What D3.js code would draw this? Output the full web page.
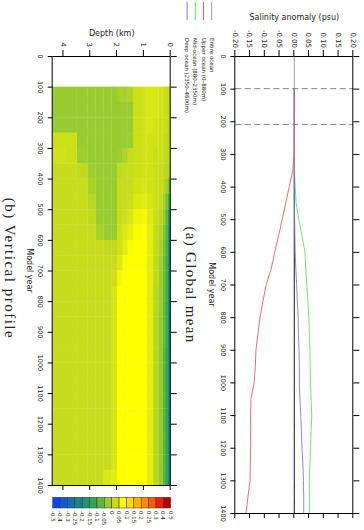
<!DOCTYPE html>
<html>
<head>
<meta charset="utf-8">
<script src="https://cdn.jsdelivr.net/npm/d3@7"></script>
<style>
  body { margin: 0; background: #fff; }
  text { font-family: "DejaVu Sans", sans-serif; fill: #222; }
  .axis path, .axis line { stroke: #000; stroke-width: 1; }
</style>
</head>
<body>
<div id="chart"></div>
<script>
// ----------------------------DATA-------------------------------//
const years = [100, 150, 200, 250, 300, 350, 400, 450, 500, 550, 600, 650, 700, 750,
  800, 850, 900, 950, 1000, 1050, 1100, 1150, 1200, 1250, 1300, 1350, 1400];
const entireOcean = [0, 0, 0, 0, 0, 0, 0, 0, 0, 0, 0, 0, 0, 0,
  0, 0, 0, 0, 0, 0, 0, 0, 0, 0, 0, 0, 0];
const upperOcean = [0, 0, 0, 0, -0.001, -0.005, -0.017, -0.029, -0.041, -0.053, -0.066, -0.078, -0.095, -0.106,
  -0.116, -0.123, -0.130, -0.132, -0.136, -0.147, -0.148, -0.148, -0.148, -0.149, -0.150, -0.157, -0.164];
const midOcean = [0, 0, 0, 0, 0.001, 0.001, 0.003, 0.006, 0.015, 0.026, 0.036, 0.039, 0.042, 0.046,
  0.049, 0.051, 0.053, 0.054, 0.055, 0.057, 0.059, 0.057, 0.055, 0.053, 0.051, 0.051, 0.051];
const deepOcean = [0, 0, 0, 0, 0, 0, 0, 0, 0.001, 0.002, 0.003, 0.005, 0.008, 0.010,
  0.013, 0.014, 0.016, 0.017, 0.017, 0.019, 0.022, 0.024, 0.026, 0.029, 0.031, 0.032, 0.032];

const seriesNames = ['Entire ocean', 'Upper ocean (0\u2013880m)', 'Mid-ocean (880\u20132350m)', 'Deep ocean (2350\u20134600m)'];
const seriesColors = ['#9a9a9a', '#e0606a', '#66dd66', '#7a7ae8'];
const markerYears = [100, 210];

const salinityTicks = [-0.20, -0.15, -0.10, -0.05, 0.00, 0.05, 0.10, 0.15, 0.20];
const yearTicks = [0, 100, 200, 300, 400, 500, 600, 700, 800, 900, 1000, 1100, 1200, 1300, 1400];
const depthTicks = [0, 1, 2, 3, 4];

// vertical profile: cell edges and values (psu), one row per depth cell
const profileYearEdges = [100, 150, 200, 250, 300, 350, 400, 450, 500, 550, 600, 650, 700, 750,
  800, 850, 900, 950, 1000, 1050, 1100, 1150, 1200, 1250, 1300, 1350, 1400];
const depthEdges = [0, 0.04, 0.1, 0.2, 0.3, 0.45, 0.65, 0.9, 1.1, 1.4, 1.6, 1.8, 2.0,
  2.2, 2.5, 2.8, 3.1, 3.5, 3.9, 4.4];
const profileGrid = [
  [0.02, 0.02, 0.02, 0.02, 0.02, 0.01, -0.1, -0.2, -0.28, -0.33, -0.35, -0.35, -0.35, -0.35, -0.35, -0.35, -0.35, -0.35, -0.35, -0.35, -0.35, -0.35, -0.35, -0.35, -0.35, -0.35],
  [0.02, 0.02, 0.02, 0.02, 0.015, 0.0, -0.05, -0.1, -0.14, -0.16, -0.17, -0.17, -0.18, -0.18, -0.18, -0.19, -0.19, -0.19, -0.2, -0.2, -0.2, -0.2, -0.2, -0.2, -0.2, -0.2],
  [0.025, 0.025, 0.025, 0.02, 0.015, 0.005, -0.02, -0.05, -0.07, -0.08, -0.09, -0.1, -0.1, -0.1, -0.11, -0.11, -0.11, -0.12, -0.12, -0.12, -0.12, -0.12, -0.12, -0.12, -0.12, -0.12],
  [0.03, 0.03, 0.03, 0.025, 0.025, 0.02, 0.01, -0.01, -0.025, -0.04, -0.05, -0.06, -0.06, -0.065, -0.07, -0.07, -0.07, -0.075, -0.075, -0.075, -0.075, -0.075, -0.075, -0.075, -0.075, -0.075],
  [0.035, 0.035, 0.03, 0.03, 0.03, 0.025, 0.025, 0.02, 0.01, 0.0, -0.01, -0.02, -0.025, -0.025, -0.025, -0.03, -0.03, -0.03, -0.03, -0.03, -0.03, -0.03, -0.03, -0.03, -0.03, -0.03],
  [0.04, 0.04, 0.035, 0.035, 0.03, 0.03, 0.03, 0.03, 0.025, 0.02, 0.02, 0.015, 0.015, 0.01, 0.01, 0.01, 0.01, 0.01, 0.01, 0.01, 0.01, 0.01, 0.01, 0.01, 0.01, 0.01],
  [0.04, 0.04, 0.04, 0.035, 0.035, 0.035, 0.035, 0.04, 0.045, 0.05, 0.05, 0.05, 0.05, 0.05, 0.05, 0.05, 0.05, 0.05, 0.05, 0.05, 0.05, 0.05, 0.05, 0.05, 0.05, 0.05],
  [0.035, 0.035, 0.035, 0.035, 0.035, 0.035, 0.04, 0.05, 0.065, 0.075, 0.075, 0.075, 0.075, 0.075, 0.075, 0.075, 0.075, 0.075, 0.075, 0.075, 0.075, 0.075, 0.075, 0.075, 0.075, 0.075],
  [0.03, 0.03, 0.03, 0.03, 0.03, 0.03, 0.035, 0.045, 0.06, 0.07, 0.075, 0.075, 0.075, 0.075, 0.075, 0.075, 0.075, 0.075, 0.075, 0.075, 0.075, 0.075, 0.075, 0.075, 0.075, 0.075],
  [0.0, -0.025, -0.025, -0.02, 0.025, 0.025, 0.025, 0.03, 0.04, 0.055, 0.07, 0.075, 0.075, 0.075, 0.075, 0.075, 0.075, 0.075, 0.075, 0.075, 0.075, 0.075, 0.075, 0.075, 0.075, 0.075],
  [-0.01, -0.025, -0.025, -0.025, 0.0, 0.025, 0.025, 0.025, 0.03, 0.04, 0.05, 0.07, 0.075, 0.075, 0.075, 0.075, 0.075, 0.075, 0.075, 0.075, 0.075, 0.075, 0.075, 0.075, 0.075, 0.075],
  [-0.01, -0.025, -0.025, -0.025, -0.02, 0.02, 0.025, 0.025, 0.025, 0.03, 0.035, 0.045, 0.065, 0.075, 0.075, 0.075, 0.075, 0.075, 0.075, 0.075, 0.075, 0.075, 0.075, 0.075, 0.075, 0.075],
  [-0.025, -0.025, -0.025, -0.025, -0.025, -0.025, -0.025, -0.025, -0.025, -0.025, 0.02, 0.025, 0.03, 0.04, 0.04, 0.04, 0.04, 0.04, 0.04, 0.04, 0.04, 0.04, 0.04, 0.04, 0.04, 0.05],
  [-0.025, -0.025, -0.025, -0.025, -0.025, -0.025, -0.025, -0.025, -0.025, -0.025, 0.02, 0.025, 0.025, 0.025, 0.025, 0.025, 0.025, 0.025, 0.025, 0.025, 0.025, 0.025, 0.025, 0.025, 0.025, 0.045],
  [-0.025, -0.025, -0.025, -0.025, -0.025, -0.025, -0.025, -0.025, -0.025, -0.01, 0.025, 0.025, 0.025, 0.025, 0.025, 0.025, 0.025, 0.025, 0.025, 0.025, 0.025, 0.025, 0.025, 0.025, 0.025, 0.025],
  [-0.025, -0.025, -0.025, -0.025, -0.025, -0.02, -0.01, 0.01, 0.02, 0.025, 0.025, 0.025, 0.025, 0.025, 0.025, 0.025, 0.025, 0.025, 0.025, 0.025, 0.025, 0.025, 0.025, 0.025, 0.025, 0.025],
  [-0.025, -0.025, -0.025, -0.025, -0.02, 0.02, 0.025, 0.025, 0.025, 0.025, 0.025, 0.025, 0.025, 0.025, 0.025, 0.025, 0.025, 0.025, 0.025, 0.025, 0.025, 0.025, 0.025, 0.025, 0.025, 0.025],
  [-0.025, -0.025, -0.025, 0.03, 0.03, 0.025, 0.025, 0.025, 0.025, 0.025, 0.025, 0.025, 0.025, 0.025, 0.025, 0.025, 0.025, 0.025, 0.025, 0.025, 0.025, 0.025, 0.025, 0.025, 0.025, 0.025],
  [-0.025, -0.025, -0.025, 0.03, 0.035, 0.025, 0.025, 0.025, 0.025, 0.025, 0.025, 0.025, 0.025, 0.025, 0.025, 0.025, 0.025, 0.025, 0.025, 0.025, 0.025, 0.025, 0.025, 0.025, 0.025, 0.025]
];

const colorEdges = [-0.5, -0.4, -0.3, -0.25, -0.2, -0.15, -0.1, -0.05, 0, 0.05, 0.1, 0.15, 0.2, 0.25, 0.3, 0.4, 0.5];
const colorLabels = ['-0.5', '-0.4', '-0.3', '-0.25', '-0.2', '-0.15', '-0.1', '-0.05', '0', '0.05', '0.1', '0.15', '0.2', '0.25', '0.3', '0.4', '0.5'];
const colorSteps = ['#0a46ff', '#1458d8', '#1a6cb2', '#198490', '#1a9672', '#2ea64e', '#5eb83c', '#98cc30',
  '#c6dc1c', '#ffff00', '#ffd800', '#ffb200', '#ff8c00', '#ff5a00', '#f01e00', '#b00000'];

// ---------------------------LAYOUT------------------------------//
// the figure is drawn upright in a 530x364 frame, then turned a quarter clockwise
const W = 364;
const H = 530;

const svg = d3.select('#chart').append('svg')
  .attr('width', W)
  .attr('height', H)
  .style('background', '#fff');

const fig = svg.append('g').attr('transform', `translate(${W},0) rotate(90)`);

// ----------------------------SCALES-----------------------------//
const xa = d3.scaleLinear().domain([0, 1400]).range([56, 513]);
const ya = d3.scaleLinear().domain([-0.2, 0.2]).range([128.7, 10.7]);
const xb = d3.scaleLinear().domain([0, 1400]).range([56, 485]);
const yb = d3.scaleLinear().domain([0, 4.4]).range([193.3, 311.3]);

const centers = colorSteps.map((c, i) => (colorEdges[i] + colorEdges[i + 1]) / 2);
const color = d3.scaleLinear().domain(centers).range(colorSteps).clamp(true);

// ----------------------(a) GLOBAL MEAN--------------------------//
const pa = fig.append('g');

pa.append('line')
  .attr('x1', xa(0)).attr('x2', xa(1400))
  .attr('y1', ya(0)).attr('y2', ya(0))
  .attr('stroke', '#888').attr('stroke-width', 0.8);

pa.selectAll('.marker')
  .data(markerYears)
  .enter()
  .append('line')
  .attr('class', 'marker')
  .attr('x1', d => xa(d)).attr('x2', d => xa(d))
  .attr('y1', ya(-0.2)).attr('y2', ya(0.2))
  .attr('stroke', '#666').attr('stroke-width', 0.8)
  .attr('stroke-dasharray', '6,3.5');

const line = d3.line()
  .x(d => xa(d.year))
  .y(d => ya(d.value));

const series = [
  { name: seriesNames[0], values: entireOcean, stroke: '#222' },
  { name: seriesNames[2], values: midOcean, stroke: seriesColors[2] },
  { name: seriesNames[3], values: deepOcean, stroke: seriesColors[3] },
  { name: seriesNames[1], values: upperOcean, stroke: seriesColors[1] },
];

pa.selectAll('.series')
  .data(series)
  .enter()
  .append('path')
  .attr('class', 'series')
  .attr('fill', 'none')
  .attr('stroke', d => d.stroke)
  .attr('stroke-width', 0.9)
  .attr('d', d => line(d.values.map((v, i) => ({ year: years[i], value: v }))));

const fmt2 = d => d.toFixed(2);

pa.append('g').attr('class', 'axis')
  .attr('transform', `translate(${xa(0)},0)`)
  .call(d3.axisLeft(ya).tickValues(salinityTicks).tickFormat(fmt2).tickSize(6).tickSizeOuter(0).tickPadding(2))
  .selectAll('text').style('font-size', '7px').style('font-family', 'DejaVu Sans');

pa.append('g').attr('class', 'axis')
  .attr('transform', `translate(${xa(1400)},0)`)
  .call(d3.axisRight(ya).tickValues(salinityTicks).tickFormat('').tickSize(5).tickSizeOuter(0));

pa.append('g').attr('class', 'axis')
  .attr('transform', `translate(0,${ya(-0.2)})`)
  .call(d3.axisBottom(xa).tickValues(yearTicks).tickFormat(d3.format('d')).tickSize(5).tickSizeOuter(0).tickPadding(5))
  .selectAll('text').style('font-size', '6.5px').style('font-family', 'DejaVu Sans');

pa.append('g').attr('class', 'axis')
  .attr('transform', `translate(0,${ya(0.2)})`)
  .call(d3.axisTop(xa).tickValues(yearTicks).tickFormat('').tickSize(6).tickSizeOuter(0));

pa.append('text')
  .attr('transform', `translate(17,${(ya(-0.2) + ya(0.2)) / 2}) rotate(-90)`)
  .attr('text-anchor', 'middle')
  .attr('dy', '0.35em')
  .style('font-size', '8px')
  .text('Salinity anomaly (psu)');

pa.append('text')
  .attr('x', (xa(0) + xa(1400)) / 2)
  .attr('y', 152.3)
  .attr('dy', '0.35em')
  .attr('text-anchor', 'middle')
  .style('font-size', '8px')
  .text('Model year');

// legend
const legend = pa.append('g')
  .selectAll('g')
  .data(seriesNames)
  .enter()
  .append('g')
  .attr('transform', (d, i) => `translate(0,${152.3 + i * 8.2})`);

legend.append('line')
  .attr('x1', 2).attr('x2', 20)
  .attr('stroke', (d, i) => seriesColors[i])
  .attr('stroke-width', 1);

legend.append('text')
  .attr('x', 38)
  .attr('dy', '0.35em')
  .style('font-size', '5.5px')
  .text(d => d);

pa.append('text')
  .attr('x', 285)
  .attr('y', 178)
  .attr('text-anchor', 'middle')
  .style('font-family', '"Liberation Serif", serif')
  .style('font-size', '15px')
  .style('letter-spacing', '1.3px')
  .text('(a) Global mean');

// ---------------------(b) VERTICAL PROFILE----------------------//
const pb = fig.append('g');

const cells = [];
profileGrid.forEach((row, i) => {
  row.forEach((v, j) => {
    cells.push({ y0: depthEdges[i], y1: depthEdges[i + 1], x0: profileYearEdges[j], x1: profileYearEdges[j + 1], v });
  });
});

pb.append('g')
  .selectAll('rect')
  .data(cells)
  .enter()
  .append('rect')
  .attr('x', d => xb(d.x0))
  .attr('y', d => yb(d.y0))
  .attr('width', d => xb(d.x1) - xb(d.x0) + 0.3)
  .attr('height', d => yb(d.y1) - yb(d.y0) + 0.3)
  .attr('fill', d => color(d.v));

pb.append('g').attr('class', 'axis')
  .attr('transform', `translate(${xb(0)},0)`)
  .call(d3.axisLeft(yb).tickValues(depthTicks).tickFormat(d3.format('d')).tickSize(6).tickSizeOuter(0).tickPadding(3))
  .selectAll('text').style('font-size', '7px').style('font-family', 'DejaVu Sans');

pb.append('g').attr('class', 'axis')
  .attr('transform', `translate(${xb(1400)},0)`)
  .call(d3.axisRight(yb).tickValues(depthTicks).tickFormat('').tickSize(5).tickSizeOuter(0));

pb.append('g').attr('class', 'axis')
  .attr('transform', `translate(0,${yb(4.4)})`)
  .call(d3.axisBottom(xb).tickValues(yearTicks).tickFormat(d3.format('d')).tickSize(5).tickSizeOuter(0).tickPadding(5))
  .selectAll('text').style('font-size', '6.5px').style('font-family', 'DejaVu Sans');

pb.append('g').attr('class', 'axis')
  .attr('transform', `translate(0,${yb(0)})`)
  .call(d3.axisTop(xb).tickValues(yearTicks).tickFormat('').tickSize(6).tickSizeOuter(0));

pb.append('text')
  .attr('transform', `translate(33.5,${(yb(0) + yb(4.4)) / 2}) rotate(-90)`)
  .attr('text-anchor', 'middle')
  .attr('dy', '0.35em')
  .style('font-size', '8px')
  .text('Depth (km)');

pb.append('text')
  .attr('x', (xb(0) + xb(1400)) / 2)
  .attr('y', 334.5)
  .attr('dy', '0.35em')
  .attr('text-anchor', 'middle')
  .style('font-size', '8px')
  .text('Model year');

pb.append('text')
  .attr('x', 268.5)
  .attr('y', 359)
  .attr('text-anchor', 'middle')
  .style('font-family', '"Liberation Serif", serif')
  .style('font-size', '15px')
  .style('letter-spacing', '1.5px')
  .text('(b) Vertical profile');

// colour bar
const cbY = d3.scaleLinear().domain([0, colorSteps.length]).range([311.3, 193.3]);

pb.append('g')
  .selectAll('rect')
  .data(colorSteps)
  .enter()
  .append('rect')
  .attr('x', 497.3)
  .attr('y', (d, i) => cbY(i + 1))
  .attr('width', 10.7)
  .attr('height', (d, i) => cbY(i) - cbY(i + 1))
  .attr('fill', d => d)
  .attr('stroke', '#333')
  .attr('stroke-width', 0.5);

pb.append('g')
  .selectAll('text')
  .data(colorLabels)
  .enter()
  .append('text')
  .attr('x', 511)
  .attr('y', (d, i) => cbY(i))
  .attr('dy', '0.35em')
  .style('font-size', '5.5px')
  .text(d => d);
</script>
</body>
</html>
